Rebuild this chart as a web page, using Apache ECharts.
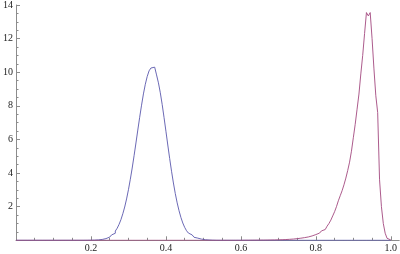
<!DOCTYPE html>
<html>
<head>
<meta charset="utf-8">
<script src="https://cdn.jsdelivr.net/npm/echarts@6/dist/echarts.min.js"></script>
<style>html,body{margin:0;padding:0;background:#fff}#c{width:400px;height:254px}</style>
</head>
<body>
<div id="c"></div>
<script>
// histogram bins: 200 bins of width 0.005 on [0, 1]
var binWidth = 0.005;
var binCount = 200;

var blueValues = [
  0,0,0,0,0,0,0,0,0,0,
  0,0,0,0,0,0,0,0,0,0,
  0,0,0,0,0,0,0,0,0,0,
  0,0,0,0,0,0,0.001,0.002,0.003,0.005,
  0.007,0.011,0.017,0.025,0.035,0.05,0.07,0.10,0.14,0.19,
  0.25,0.32,0.42,0.55,0.72,0.95,1.23,1.58,1.98,2.46,
  3.01,3.63,4.30,5.03,5.79,6.56,7.32,8.04,8.71,9.28,
  9.74,10.08,10.25,10.3,10.2,9.84,9.37,8.78,8.08,7.30,
  6.49,5.67,4.87,4.11,3.41,2.78,2.23,1.76,1.36,1.03,
  0.77,0.57,0.43,0.32,0.24,0.18,0.13,0.095,0.07,0.05,
  0.035,0.025,0.017,0.011,0.007,0.004,0.002,0,0,0,
  0,0,0,0,0,0,0,0,0,0,
  0,0,0,0,0,0,0,0,0,0,
  0,0,0,0,0,0,0,0,0,0,
  0,0,0,0,0,0,0,0,0,0,
  0,0,0,0,0,0,0,0,0,0,
  0,0,0,0,0,0,0,0,0,0,
  0,0,0,0,0,0,0,0,0,0,
  0,0,0,0,0,0,0,0,0,0,
  0,0,0,0,0,0,0,0,0,0
];

var magentaValues = [
  0,0,0,0,0,0,0,0,0,0,
  0,0,0,0,0,0,0,0,0,0,
  0,0,0,0,0,0,0,0,0,0,
  0,0,0,0,0,0,0,0,0,0,
  0,0,0,0,0,0,0,0,0,0,
  0,0,0,0,0,0,0,0,0,0,
  0,0,0,0,0,0,0,0,0,0,
  0,0,0,0,0,0,0,0,0,0,
  0,0,0,0,0,0,0,0,0,0,
  0,0,0,0,0,0,0,0,0,0,
  0,0,0,0,0,0,0,0,0,0,
  0,0,0,0,0,0,0,0,0,0,
  0.004,0.004,0.005,0.005,0.006,0.006,0.007,0.008,0.009,0.010,
  0.011,0.012,0.013,0.014,0.016,0.018,0.020,0.022,0.025,0.028,
  0.031,0.035,0.040,0.045,0.051,0.058,0.066,0.075,0.085,0.097,
  0.11,0.125,0.14,0.16,0.18,0.20,0.23,0.26,0.30,0.34,
  0.38,0.43,0.49,0.56,0.64,0.73,0.84,1.0,1.2,1.45,
  1.7,2.0,2.35,2.65,2.95,3.3,3.7,4.15,4.65,5.3,
  6.1,6.9,7.8,8.7,9.9,11.0,12.3,13.55,13.35,13.55,
  12.0,10.2,8.6,7.6,3.6,2.0,1.0,0.42,0.12,0.02
];

var xMajorTicks = [0.2, 0.4, 0.6, 0.8, 1.0];
var xMinorTicks = [0.05,0.1,0.15,0.25,0.3,0.35,0.45,0.5,0.55,0.65,0.7,0.75,0.85,0.9,0.95];
var xTickLabels = ['0.2', '0.4', '0.6', '0.8', '1.0'];
var yTickLabels = ['2', '4', '6', '8', '10', '12', '14'];

function stepData(vals) {
  var d = [];
  for (var i = 0; i < binCount; i++) d.push([+(i * binWidth).toFixed(4), vals[i]]);
  d.push([1.0, vals[binCount - 1]]);
  d.push([1.0, 0]);
  return d;
}

var axisColor = '#8c8c8c';
var labelFont = { fontFamily: '"Liberation Serif", "Times New Roman", serif', fontSize: 10, color: '#222' };
var xMax = 1.0225;

var chart = echarts.init(document.getElementById('c'), null, { renderer: 'canvas' });
chart.setOption({
  animation: false,
  backgroundColor: '#fff',
  textStyle: { fontFamily: '"Liberation Serif", "Times New Roman", serif' },
  grid: { left: 13.5, right: 0.5, top: 4.4, bottom: 13.7, containLabel: false },
  xAxis: [{
    type: 'value', min: 0, max: xMax,
    axisLine: { show: true, lineStyle: { color: axisColor, width: 1 } },
    axisTick: { show: true, inside: true, length: 4, customValues: xMajorTicks, lineStyle: { color: axisColor } },
    axisLabel: Object.assign({ show: true, margin: 3, customValues: xMajorTicks,
      formatter: function (v) { var i = xMajorTicks.indexOf(+v.toFixed(2)); return i >= 0 ? xTickLabels[i] : ''; } }, labelFont),
    splitLine: { show: false }
  }, {
    type: 'value', min: 0, max: xMax, position: 'bottom', offset: 0,
    axisLine: { show: false },
    axisTick: { show: true, inside: true, length: 2.5, customValues: xMinorTicks, lineStyle: { color: axisColor } },
    axisLabel: { show: false },
    splitLine: { show: false }
  }],
  yAxis: {
    type: 'value', min: 0, max: 14, interval: 2,
    axisLine: { show: true, onZero: false, lineStyle: { color: axisColor, width: 1 } },
    axisTick: { show: true, inside: true, length: 4, lineStyle: { color: axisColor } },
    minorTick: { show: true, splitNumber: 4, length: 2.5, lineStyle: { color: axisColor } },
    axisLabel: Object.assign({ margin: 3,
      formatter: function (v) { return v === 0 ? '' : yTickLabels[v / 2 - 1]; } }, labelFont),
    splitLine: { show: false }
  },
  series: [{
    type: 'line', step: 'end', xAxisIndex: 0, symbol: 'none',
    data: stepData(blueValues),
    lineStyle: { color: '#5a58ad', width: 0.9 }
  }, {
    type: 'line', step: 'end', xAxisIndex: 0, symbol: 'none',
    data: stepData(magentaValues),
    lineStyle: { color: '#a3487f', width: 0.9 }
  }]
});
</script>
</body>
</html>
